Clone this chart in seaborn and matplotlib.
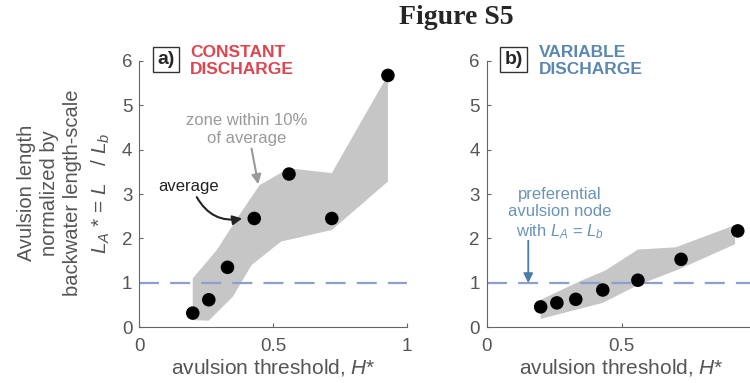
import numpy as np
import pandas as pd
import matplotlib
matplotlib.use("Agg")
import matplotlib.pyplot as plt
import seaborn as sns

# avulsion threshold H* and normalised avulsion length
h_star = [0.20, 0.26, 0.33, 0.43, 0.56, 0.72, 0.93]
la_constant = [0.32, 0.62, 1.35, 2.45, 3.45, 2.45, 5.67]
la_variable = [0.46, 0.55, 0.63, 0.84, 1.06, 1.53, 2.17]

# 10% zone around the average, constant discharge
zone_a_upper_x = [0.20, 0.29, 0.37, 0.45, 0.56, 0.72, 0.93]
zone_a_upper_y = [1.10, 1.74, 2.49, 3.20, 3.58, 3.47, 5.68]
zone_a_lower_x = [0.20, 0.26, 0.35, 0.42, 0.53, 0.72, 0.93]
zone_a_lower_y = [0.16, 0.15, 0.69, 1.40, 1.93, 2.19, 3.28]

# 10% zone around the average, variable discharge
zone_b_upper_x = [0.20, 0.35, 0.44, 0.56, 0.70, 0.92]
zone_b_upper_y = [0.62, 1.05, 1.28, 1.75, 1.80, 2.30]
zone_b_lower_x = [0.20, 0.43, 0.56, 0.71, 0.92]
zone_b_lower_y = [0.19, 0.55, 0.95, 1.30, 1.87]

x_ticks = [0, 0.5, 1]
x_tick_labels_a = ["0", "0.5", "1"]
x_tick_labels_b = ["0", "0.5", ""]   # the "1" falls outside the picture
y_ticks = [0, 1, 2, 3, 4, 5, 6]

sns.set_style("ticks")
plt.rcParams['font.family'] = ['Liberation Sans', 'DejaVu Sans']
plt.rcParams['mathtext.fontset'] = 'custom'
plt.rcParams['mathtext.rm'] = 'Liberation Sans'
plt.rcParams['mathtext.it'] = 'Liberation Sans:italic'

grey_txt = '#555555'
band_col = '#c6c6c6'
dash_col = '#8c9fd0'
red = '#e0454f'
blue = '#5b88b1'

fig = plt.figure(figsize=(7.5, 3.83), dpi=100)
ax_a = fig.add_axes([0.1857, 0.1454, 0.3565, 0.696])
ax_b = fig.add_axes([0.6489, 0.1454, 0.36, 0.696])


def zone_polygon(ux, uy, lx, ly):
    xs = list(ux) + list(lx)[::-1]
    ys = list(uy) + list(ly)[::-1]
    return xs, ys


def style_axis(ax, xlabels):
    ax.set_xlim(0, 1)
    ax.set_ylim(0, 6)
    ax.set_xticks(x_ticks)
    ax.set_xticklabels(xlabels)
    ax.set_yticks(y_ticks)
    ax.tick_params(direction='in', length=3, width=0.8, colors='#666666',
                   labelcolor=grey_txt, labelsize=13.5)
    ax.tick_params(axis='x', pad=8)
    ax.tick_params(axis='y', pad=5)
    sns.despine(ax=ax)
    for s in ['left', 'bottom']:
        ax.spines[s].set_color('#666666')
        ax.spines[s].set_linewidth(0.8)
    ax.set_xlabel(r"avulsion threshold, $H$*", fontsize=15, color=grey_txt, labelpad=1)
    ax.set_ylabel("")


# --- panel a: constant discharge ---
xs, ys = zone_polygon(zone_a_upper_x, zone_a_upper_y, zone_a_lower_x, zone_a_lower_y)
ax_a.fill(xs, ys, color=band_col, lw=0, zorder=1)
ax_a.axhline(1, color=dash_col, lw=1.6, dashes=(9, 5), zorder=2)
df_a = pd.DataFrame({'H': h_star, 'LA': la_constant})
sns.scatterplot(data=df_a, x='H', y='LA', ax=ax_a, color='black', s=95,
                edgecolor='none', zorder=3, legend=False)
style_axis(ax_a, x_tick_labels_a)

ax_a.text(0.10, 6.03, "a)", fontsize=14, fontweight='bold', ha='center', va='center',
          bbox=dict(boxstyle='square,pad=0.22', fc='white', ec='#333333', lw=1.0),
          clip_on=False)
ax_a.text(0.19, 6.0, "CONSTANT\nDISCHARGE", fontsize=12.5, fontweight='bold', color=red,
          ha='left', va='center', linespacing=1.15, clip_on=False)

ax_a.text(0.40, 4.45, "zone within 10%\nof average", fontsize=12, color='#9a9a9a',
          ha='center', va='center', linespacing=1.25)
ax_a.annotate("", xy=(0.445, 3.22), xytext=(0.42, 4.02),
              arrowprops=dict(arrowstyle='-|>', color='#999999', lw=1.5,
                              mutation_scale=14, shrinkA=0, shrinkB=0))
ax_a.text(0.183, 3.18, "average", fontsize=12, color='#222222', ha='center', va='center')
ax_a.annotate("", xy=(0.385, 2.45), xytext=(0.215, 2.93),
              arrowprops=dict(arrowstyle='-|>', color='#222222', lw=1.5,
                              mutation_scale=14, shrinkA=0, shrinkB=0,
                              connectionstyle='arc3,rad=0.35'))

# multi-line y label, drawn as separate rotated lines
ylab_lines = ["Avulsion length", "normalized by", "backwater length-scale"]
for i, line in enumerate(ylab_lines):
    fig.text((26 + 23.5 * i) / 750, 1 - 193 / 383, line, rotation=90, fontsize=14.5,
             color=grey_txt, ha='center', va='center')
fig.text(101 / 750, 1 - 193 / 383, r"$L_A$ * = $L$   / $L_b$", rotation=90,
         fontsize=15, color=grey_txt, ha='center', va='center')

# --- panel b: variable discharge ---
xs, ys = zone_polygon(zone_b_upper_x, zone_b_upper_y, zone_b_lower_x, zone_b_lower_y)
ax_b.fill(xs, ys, color=band_col, lw=0, zorder=1)
ax_b.axhline(1, color=dash_col, lw=1.6, dashes=(9, 5), zorder=2, clip_on=False)
df_b = pd.DataFrame({'H': h_star, 'LA': la_variable})
sns.scatterplot(data=df_b, x='H', y='LA', ax=ax_b, color='black', s=95,
                edgecolor='none', zorder=3, legend=False)
style_axis(ax_b, x_tick_labels_b)

ax_b.text(0.10, 6.03, "b)", fontsize=14, fontweight='bold', ha='center', va='center',
          bbox=dict(boxstyle='square,pad=0.22', fc='white', ec='#333333', lw=1.0),
          clip_on=False)
ax_b.text(0.195, 6.0, "VARIABLE\nDISCHARGE", fontsize=12.5, fontweight='bold', color=blue,
          ha='left', va='center', linespacing=1.15, clip_on=False)
ax_b.text(0.27, 2.56, "preferential\navulsion node\nwith $L_A$ = $L_b$", fontsize=12,
          color='#6b93ba', ha='center', va='center', linespacing=1.2)
ax_b.annotate("", xy=(0.154, 1.0), xytext=(0.154, 1.95),
              arrowprops=dict(arrowstyle='-|>', color='#4a7ca8', lw=1.3,
                              mutation_scale=14, shrinkA=0, shrinkB=0))

fig.text(456 / 750, 1 - 18 / 383, "Figure S5", fontsize=20, fontweight='bold',
         family=['Liberation Serif', 'DejaVu Serif'], ha='center', va='center')

fig.savefig("out.png", dpi=100)
